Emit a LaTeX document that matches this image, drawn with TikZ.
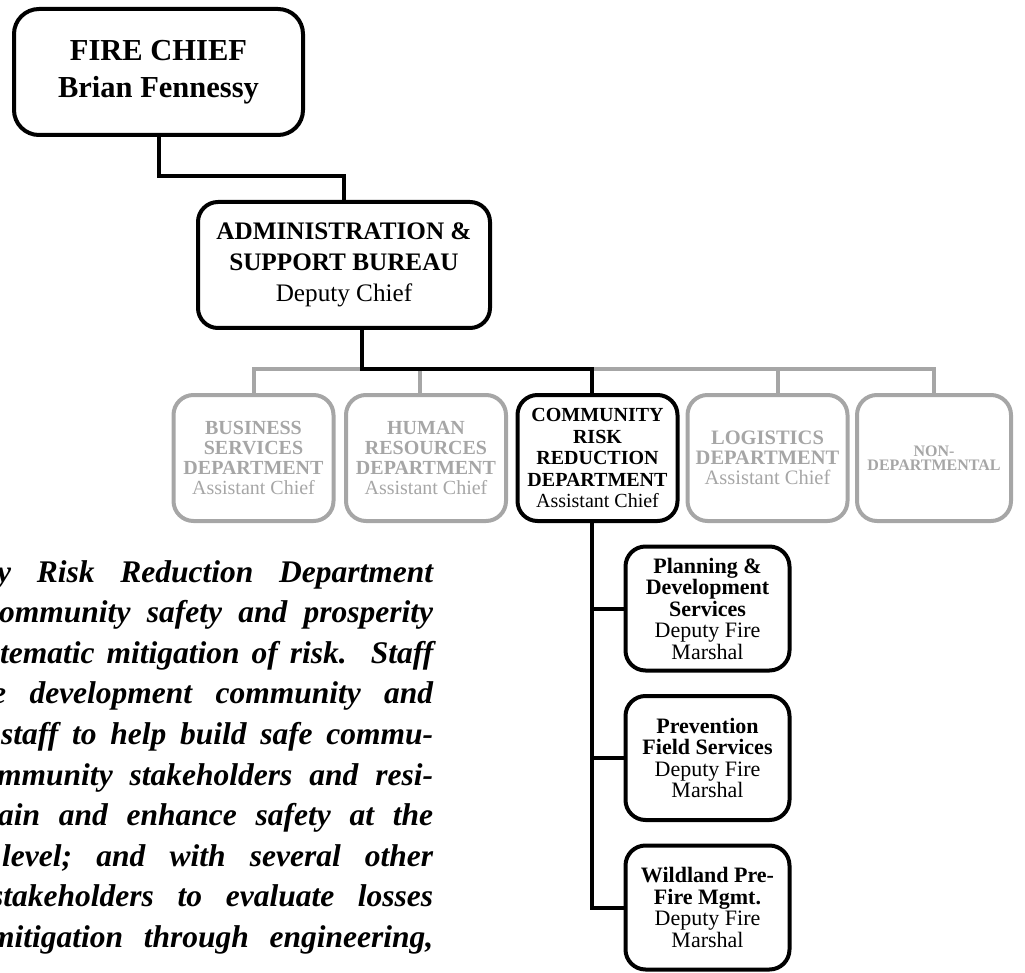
\documentclass[tikz,border=0pt]{standalone}
\usepackage{fontspec}
\setmainfont{Liberation Serif}
\definecolor{muted}{RGB}{166,166,166}
\tikzset{
  orgbox/.style={draw, line width=4pt, rounded corners=20pt, align=center, inner sep=0pt},
  activebox/.style={orgbox, draw=black, text=black},
  mutedbox/.style={orgbox, draw=muted, text=muted},
  rowbox/.style={minimum width=160pt, minimum height=126pt},
  subbox/.style={activebox, minimum width=164pt, minimum height=124pt,
    font=\fontsize{22}{21.5}\selectfont},
  link/.style={line width=4pt, draw=black},
  mutedlink/.style={line width=4pt, draw=muted},
  para/.style={inner sep=0pt, anchor=base west,
    font=\fontsize{31.5}{40}\selectfont\bfseries\itshape\frenchspacing}
}
\begin{document}
\begin{tikzpicture}[x=1pt,y=-1pt]
\useasboundingbox (0,0) rectangle (1025,973);

% top of the chain
\node[activebox, rounded corners=25pt, minimum width=289pt, minimum height=126pt,
      font=\fontsize{30.5}{37}\selectfont] (fc) at (158.5,72)
  {\textbf{FIRE CHIEF}\\\textbf{Brian Fennessy}};
\node[activebox, minimum width=292pt, minimum height=126pt,
      font=\fontsize{25.2}{31}\selectfont] (adm) at (344,265)
  {\textbf{ADMINISTRATION \&}\\\textbf{SUPPORT BUREAU}\\Deputy Chief};

% departments
\node[mutedbox, rowbox, font=\fontsize{20}{20}\selectfont] (bsd) at (253.5,458)
  {\textbf{BUSINESS}\\\textbf{SERVICES}\\\textbf{DEPARTMENT}\\Assistant Chief};
\node[mutedbox, rowbox, font=\fontsize{20}{20}\selectfont] (hr) at (426,458)
  {\textbf{HUMAN}\\\textbf{RESOURCES}\\\textbf{DEPARTMENT}\\Assistant Chief};
\node[activebox, rowbox, font=\fontsize{20}{21.5}\selectfont] (crr) at (597.5,458)
  {\textbf{COMMUNITY}\\\textbf{RISK}\\\textbf{REDUCTION}\\\textbf{DEPARTMENT}\\Assistant Chief};
\node[mutedbox, rowbox, font=\fontsize{20.5}{20}\selectfont] (log) at (767.5,458)
  {\textbf{LOGISTICS}\\\textbf{DEPARTMENT}\\Assistant Chief};
\node[mutedbox, rowbox, minimum width=154pt, font=\fontsize{16}{14}\selectfont] (nd) at (934,458)
  {\textbf{NON-}\\\textbf{DEPARTMENTAL}};

% divisions under Community Risk Reduction
\node[subbox] (plan) at (707.5,608.5)
  {\textbf{Planning \&}\\\textbf{Development}\\\textbf{Services}\\Deputy Fire\\Marshal};
\node[subbox] (prev) at (707.5,758)
  {\textbf{Prevention}\\\textbf{Field Services}\\Deputy Fire\\Marshal};
\node[subbox] (wild) at (707.5,907.5)
  {\textbf{Wildland Pre-}\\\textbf{Fire Mgmt.}\\Deputy Fire\\Marshal};

% routing guides
\coordinate (bar) at (0,369);
\coordinate (admdrop) at (362,0);
\coordinate (spine) at (592,0);
\coordinate (hrstub) at (420,0);
\coordinate (logstub) at (778,0);

% connectors
\draw[link] (fc.south) -- ++(0,39) -| (adm.north);
\draw[mutedlink] (bsd.north) -- (bsd.north |- bar) -- (nd.north |- bar) -- (nd.north);
\draw[mutedlink] (hrstub |- hr.north) -- (hrstub |- bar);
\draw[mutedlink] (logstub |- log.north) -- (logstub |- bar);
\draw[link] (admdrop |- adm.south) -- (admdrop |- bar) -- (spine |- bar) -- (spine |- crr.north);
\draw[link] (spine |- crr.south) -- (spine |- wild.west) -- (wild.west);
\draw[link] (spine |- plan.west) -- (plan.west);
\draw[link] (spine |- prev.west) -- (prev.west);

% description text, cut off at the left edge
\begin{scope}
\clip (0,0) rectangle (1025,973);
\node[para] (p0) at (-3,582)   {\makebox[436pt][s]{y Risk Reduction Department}};
\node[para] (p1) at (-1,622.6) {\makebox[434pt][s]{ommunity safety and prosperity}};
\node[para] (p2) at (0,663.2)  {\makebox[433pt][s]{tematic mitigation of risk.\ \ Staff}};
\node[para] (p3) at (-8,703.8) {\makebox[441pt][s]{e development community and}};
\node[para] (p4) at (1,744.4)  {\makebox[432pt][s]{staff to help build safe commu-}};
\node[para] (p5) at (-3,785)   {\makebox[436pt][s]{mmunity stakeholders and resi-}};
\node[para] (p6) at (-2,825.6) {\makebox[435pt][s]{ain and enhance safety at the}};
\node[para] (p7) at (2,866.2)  {\makebox[431pt][s]{level; and with several other}};
\node[para] (p8) at (-9,906.8) {\makebox[442pt][s]{stakeholders to evaluate losses}};
\node[para] (p9) at (-10,947.4) {\makebox[443pt][s]{mitigation through engineering,}};
\end{scope}
\end{tikzpicture}
\end{document}
